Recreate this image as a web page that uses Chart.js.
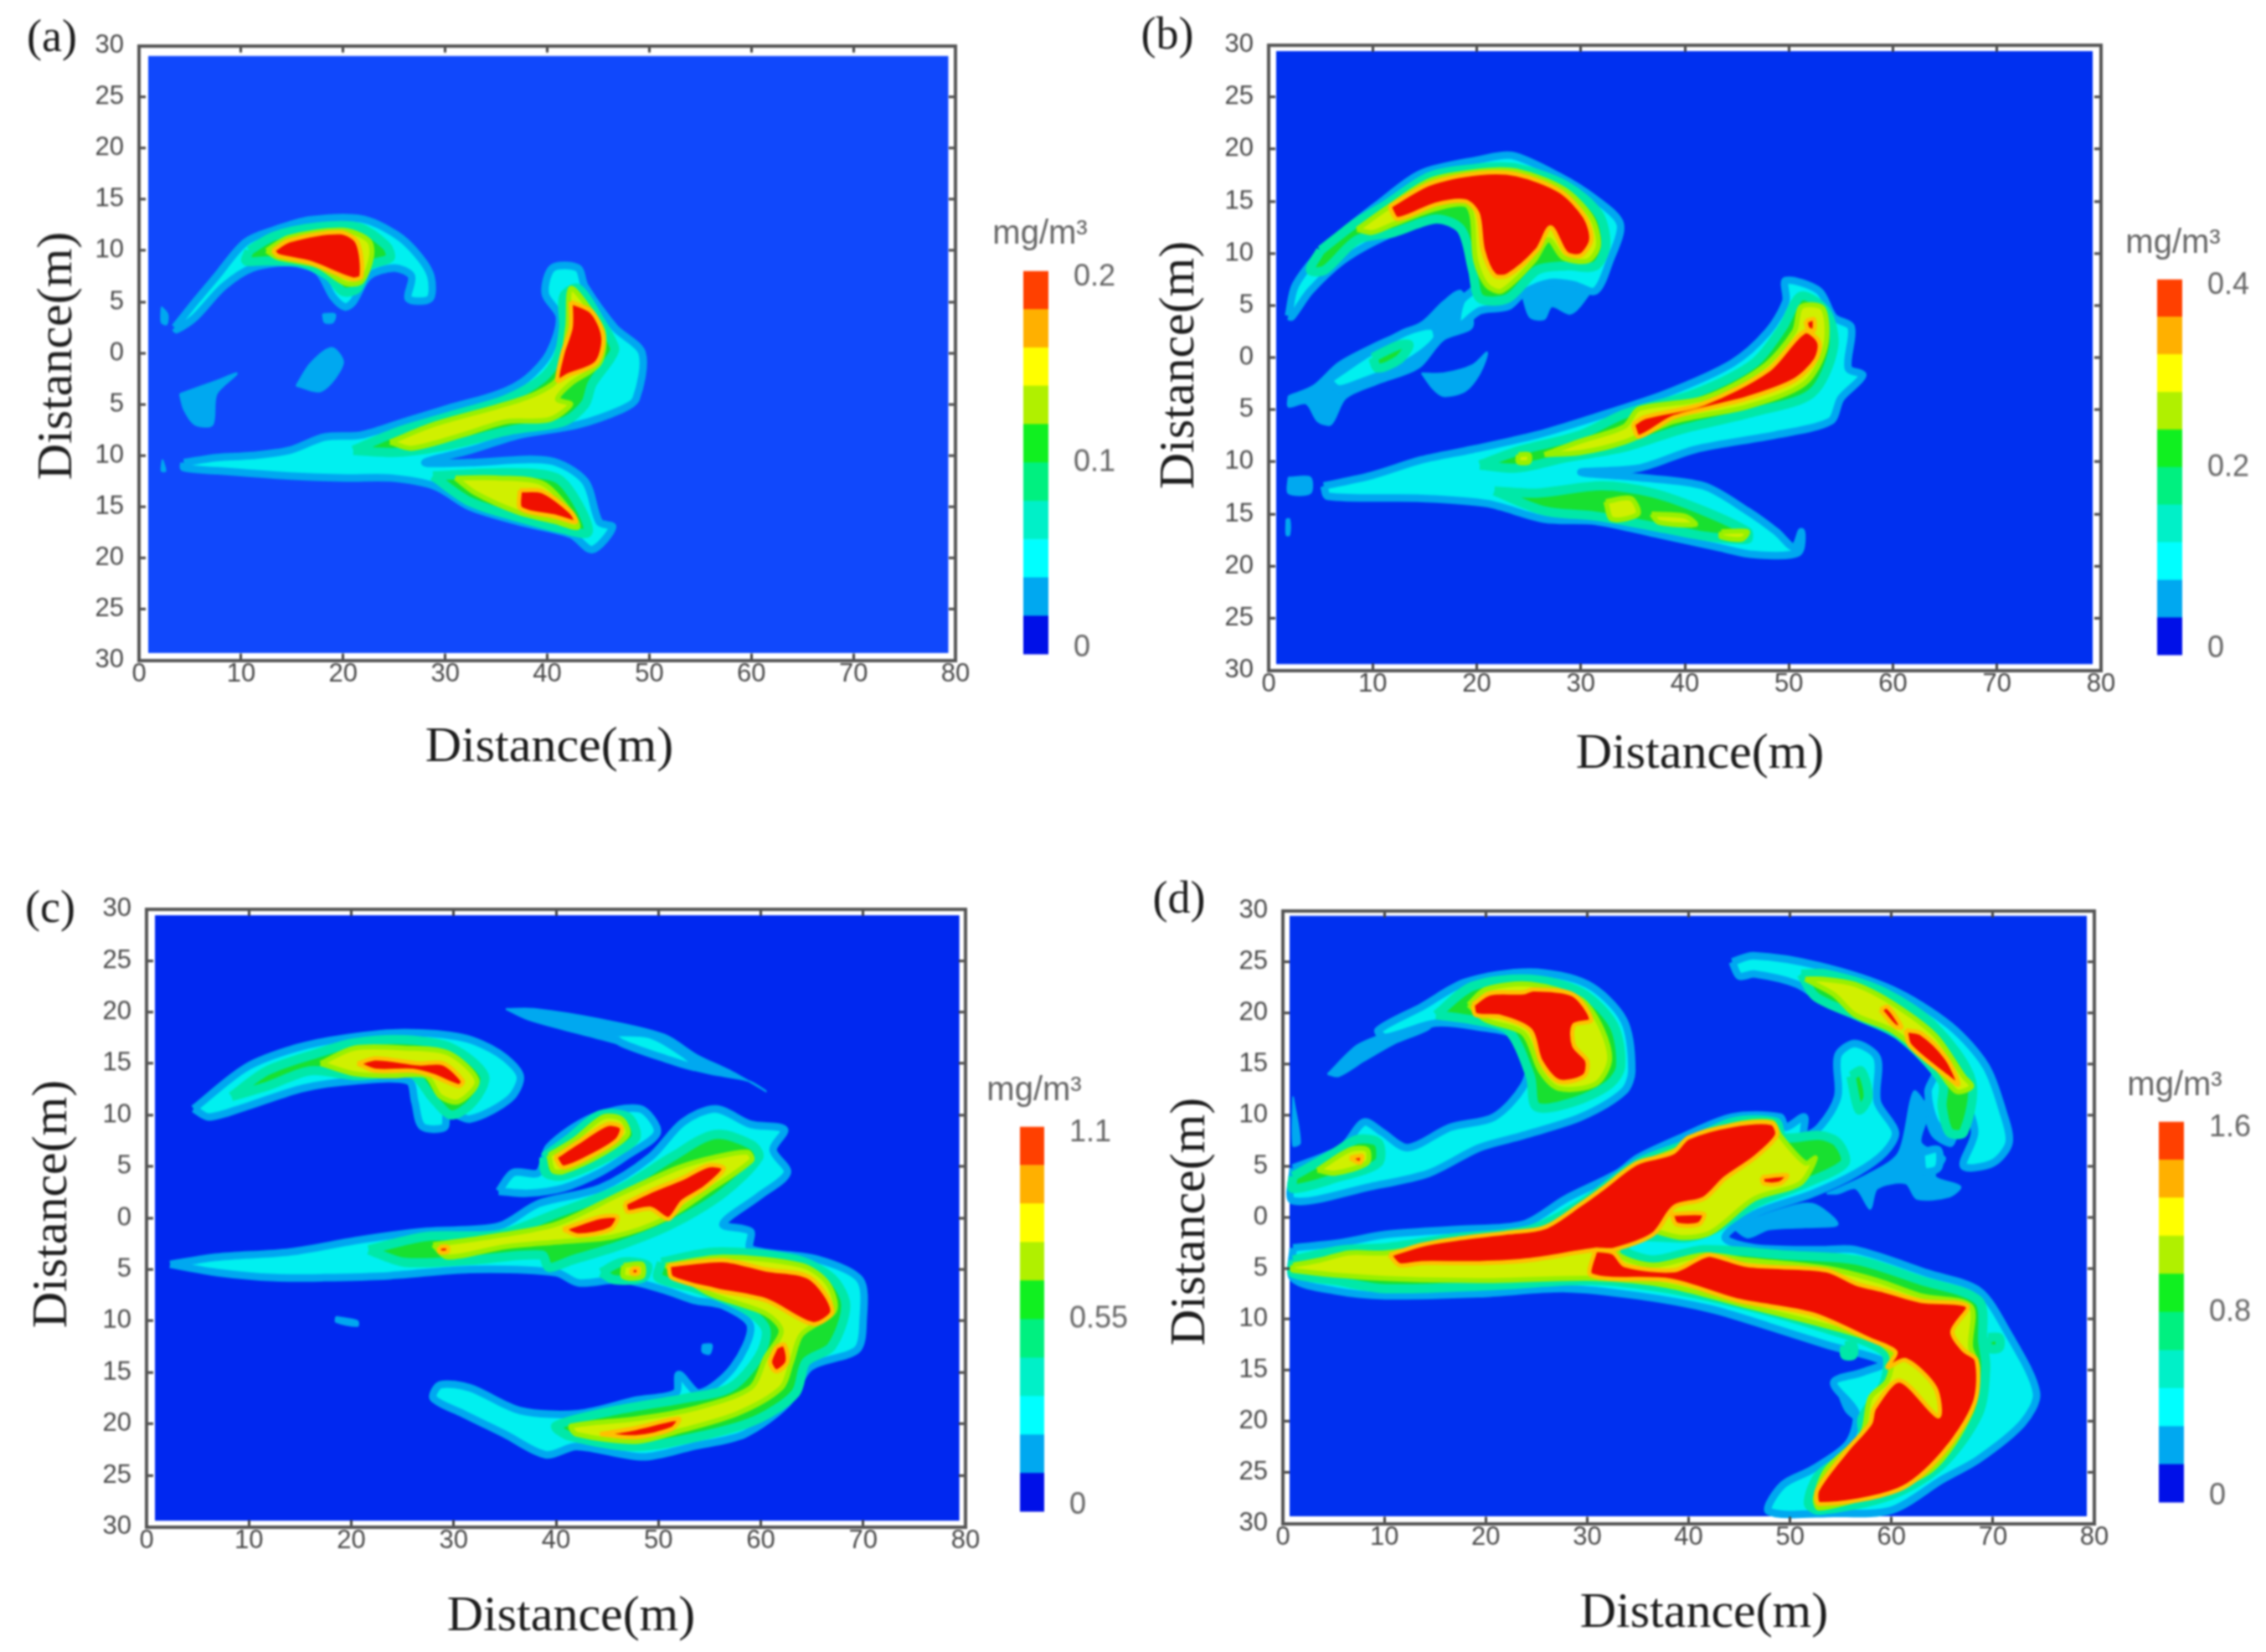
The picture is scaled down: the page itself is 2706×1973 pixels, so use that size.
<!DOCTYPE html>
<html>
<head>
<meta charset="utf-8">
<script src="https://cdn.jsdelivr.net/npm/chart.js@4/dist/chart.umd.min.js"></script>
<style>
  html, body { margin: 0; background: #fff; }
  #page { position: relative; width: 2706px; height: 1973px; overflow: hidden; background: #fff; filter: blur(1px); }
  canvas { position: absolute; }
  .label { position: absolute; white-space: nowrap; transform: translate(-50%, -50%); line-height: 1; }
  .serif { font-family: "Liberation Serif", serif; color: #1c1c1c; }
  .unit { font-family: "Liberation Sans", sans-serif; color: #666; font-size: 40px; }
</style>
</head>
<body>
<div id="page"></div>
<script>
// Axis ticks shared by the four maps. Y runs 30..0..30, stored signed, shown unsigned.
const xTickValues = [0, 10, 20, 30, 40, 50, 60, 70, 80];
const yTickValues = [30, 25, 20, 15, 10, 5, 0, -5, -10, -15, -20, -25, -30];

// Colour bar: band edges as a fraction of the top value, bottom to top
const bandEdges = [0, 0.1, 0.2, 0.3, 0.4, 0.5, 0.6, 0.7, 0.8, 0.9, 1];
const bandColors = ["#0010e8", "#00a8f0", "#00ffff", "#00f0c8", "#00f080", "#10f020", "#b0f000", "#ffff00", "#ffb000", "#ff4000"];

const aBarTicks = [0, 0.1, 0.2];
const bBarTicks = [0, 0.2, 0.4];
const cBarTicks = [0, 0.55, 1.1];
const dBarTicks = [0, 0.8, 1.6];

// ─── Panel (a) contours, [distance x, distance y] ────────────────────────────
const aField = [[[0.9, 29], [79.3, 29], [79.3, -29.3], [0.9, -29.3]]];
const aSky = [
  [[2.2, 4.5], [2.8, 3.8], [2.7, 2.8], [2.2, 3]],
  [[4, -4], [7.6, -2.7], [9.6, -2], [7.6, -4], [7.2, -7], [5.5, -7], [4.4, -5.5]],
  [[15.4, -3.2], [16.8, -1], [18.9, 0.5], [20, -1], [17.9, -3.7]],
  [[18, 3.8], [19.2, 3.8], [19, 3], [18.2, 3]],
  [[2.3, -10.4], [2.6, -11.5], [2.2, -11.5]],
];
const aCyan = [
  [[3.5, 2.5], [5.5, 5], [7.6, 7.5], [10.4, 10.8], [13.2, 12], [16.8, 13], [21.8, 13.1], [25.3, 11.5], [27.4, 9.5], [28.6, 7.5], [28.5, 5.3], [26.4, 5.3], [26.7, 7.5], [25, 8.3], [22.5, 7.5], [21, 5], [20.2, 4.5], [19, 5.5], [17.5, 8], [14.7, 8.8], [11.1, 8.3], [8.3, 6.5], [5.5, 3.5], [3.7, 2.3]],
  [[4.4, -10.7], [7.6, -10.2], [11.1, -10], [14.7, -9.5], [18.2, -8.2], [21.8, -8], [26, -6.7], [30.3, -5.4], [35.2, -4], [38, -2.5], [40.2, 0], [41.2, 3.5], [39.8, 5.8], [40.5, 8.3], [43, 8.3], [43.7, 6.5], [46.6, 2.5], [49.3, 0], [48.7, -4.5], [47.3, -5.5], [43, -7], [37.3, -8], [32.4, -9.5], [28, -10.7], [32.4, -10.7], [40.2, -10.5], [43.7, -12.5], [45.1, -16.5], [46.4, -17], [44.4, -19.2], [42.3, -17.7], [37.3, -16.5], [32.4, -15], [29, -13], [24.6, -12.2], [20.3, -12.2], [14.7, -12], [7.6, -11.5], [4.4, -11.2]],
];
const aGreen = [
  [[10.8, 10], [13.2, 11.4], [17.5, 12.3], [21.4, 12.3], [24.2, 10.5], [24.6, 9.3], [22.5, 8.5], [21.4, 6.3], [20, 6], [18.6, 7.5], [16, 8.8], [12.5, 9], [10.5, 9]],
  [[21, -9.5], [25.3, -7.7], [30.3, -6.2], [36, -4.5], [39.5, -2.5], [41, -0.5], [41.6, 2.5], [41.6, 5.5], [43, 6.3], [45.1, 3.3], [46.6, 0.5], [46.2, -0.5], [44.4, -3], [43.7, -5], [41.6, -6.7], [36.6, -7.5], [30.3, -9], [25.3, -9.7]],
  [[28.8, -12], [36, -11.7], [40.9, -12.2], [43, -14.7], [44, -17.5], [41.6, -17.2], [37, -16], [32.4, -14.5]],
];
const aYellow = [
  [[12.5, 10], [14.7, 11.3], [20, 12], [22.5, 11], [22.8, 9.5], [21.8, 7], [20.2, 6.8], [17.5, 8.5], [13.6, 9.3]],
  [[24.6, -8.7], [28.8, -7], [35.2, -5.2], [38.8, -4], [41, -2.5], [42, 2.5], [42.3, 6.3], [44, 4.5], [45.5, 2], [45.1, -1], [42.3, -3], [41, -4.5], [42.3, -5], [40.2, -6.5], [36, -6.7], [31.7, -8], [26.7, -9.3]],
  [[31, -12.2], [35.2, -12.2], [39.5, -12.7], [42.3, -15.5], [43, -17], [40.9, -16.5], [37, -15.5], [33, -13.7]],
];
const aRed = [
  [[13.1, 10], [14.7, 11], [19.7, 11.8], [21.4, 10.8], [21.8, 7.5], [20.9, 7.2], [16.8, 8.8], [13.6, 9.5]],
  [[42.3, 5], [44.4, 4], [45.5, 1.5], [44.8, -1], [42, -2.2], [41, -2.7], [41.5, 0], [42.3, 2.5]],
  [[37.3, -13.4], [39.5, -13.5], [42.3, -15.5], [42.8, -16.5], [40.9, -16], [37.4, -15.2]],
];

// ─── Panel (b) ───────────────────────────────────────────────────────────────
const bField = [[[0.72, 29.4], [79.2, 29.4], [79.2, -29.4], [0.72, -29.4]]];
const bSky = [
  [[1.9, -3.7], [4.3, -2.7], [6.7, -0.5], [10.5, 1.5], [14.7, 3.4], [16.8, 5.4], [18.5, 6.4], [19.6, 3], [16.8, 1.7], [14.4, -1], [10.5, -2.5], [7.4, -3.9], [6, -6.4], [4.7, -6.1], [3.6, -4.4], [1.9, -4.7]],
  [[14.7, -1.5], [16.8, -1.5], [19.6, -0.7], [21, 0.5], [20.3, -1.5], [18.9, -3.2], [16.8, -3.7], [15.8, -3]],
  [[24.4, 5.9], [28.6, 8.4], [32, 8.4], [30.3, 5.4], [29, 4.2], [27.2, 4.9], [26.5, 3.7], [25.1, 3.9]],
  [[1.9, -11.5], [4, -11.5], [4, -13], [1.9, -13]],
  [[1.7, -15.5], [2, -15.5], [2, -17], [1.7, -17]],
];
const bCyan = [
  [[1.9, 4], [2.6, 7], [5.7, 10.8], [10.5, 14.7], [14.7, 17.7], [20.3, 19], [23.4, 19.4], [27.9, 17.4], [31.4, 15.2], [33.8, 12.8], [32.8, 9.3], [31.4, 6.4], [29.3, 7], [27, 7.2], [24.5, 6.2], [23, 4.9], [20.3, 4.5], [18.2, 3], [18.5, 5.4], [19.9, 6.9], [19.2, 10.3], [18.2, 13.8], [14.7, 13], [10.5, 11.3], [7.1, 9.3], [4, 6.4], [2.2, 3.9]],
  [[5.7, -2.2], [9.2, 0.2], [13.3, 2.5], [15.8, 3], [16.1, 1.7], [13.3, -0.5], [8.5, -2.5], [6.7, -3]],
  [[5.3, -12.3], [9.9, -11.3], [14.7, -9.8], [19.6, -8.8], [25.8, -7.4], [31.4, -5.7], [38.3, -3.4], [44.6, -0.5], [48, 2.5], [49.7, 5.4], [49.7, 7.4], [52.9, 6.4], [54.3, 3.9], [56, 2.9], [55.7, -1], [57.1, -1.7], [55, -3.9], [54, -6.1], [48.8, -7.4], [41, -8.8], [35.6, -10.6], [30, -11], [35.6, -11.5], [41.8, -12.3], [46, -14.7], [48.8, -16.7], [50.5, -18.2], [51.2, -16.7], [50.9, -18.7], [46.7, -18.9], [43.2, -18.2], [37.6, -17], [31.4, -15.7], [26.5, -15.5], [21, -14], [14.7, -13.5], [5.7, -13.3]],
];
const bGreen = [
  [[5, 10.3], [8.5, 13], [11.3, 14.7], [15.5, 17.4], [20.3, 18.2], [23.8, 18.2], [28.6, 16.5], [31.7, 13.8], [32.4, 10.8], [31.4, 8.8], [28.6, 8.8], [25.8, 8.4], [23, 5.7], [20.3, 5.7], [19.6, 8.4], [18.5, 12.3], [16.1, 13.3], [12, 12], [8.5, 11.3], [5.4, 8.4], [4, 8.4]],
  [[10, 0], [12.5, 1.2], [13.5, 1.2], [12.5, -0.2], [10.5, -1]],
  [[20.3, -10.3], [23.8, -9], [30, -7.4], [34.2, -5.4], [41.1, -3.4], [46.7, -0.5], [49.4, 2.9], [51.2, 5.9], [53.6, 4.4], [54.3, 1], [52.2, -3.4], [46.7, -5.2], [39.6, -6.9], [34.2, -8.6], [28.6, -9.6], [23.8, -10.6]],
  [[21.7, -12.8], [25.8, -13], [32, -12.3], [37, -13], [41.8, -14.7], [46, -16.7], [46, -17.4], [42.5, -17.2], [37, -16.2], [31.4, -15.2], [26.5, -14.7]],
];
const bYellow = [
  [[8.5, 12.3], [11.3, 14.3], [15.5, 17], [20.3, 17.9], [23.8, 17.9], [28.3, 16.2], [31, 13.5], [31.7, 10.8], [30.7, 9.3], [28.3, 9.6], [26.9, 11.3], [25.5, 9.3], [22.4, 6.4], [21, 6.9], [19.9, 9.3], [19.2, 14.5], [16.1, 14.3], [12, 12.8], [9.9, 12]],
  [[26.5, -9.3], [30, -8], [34.2, -6.6], [35.6, -4.9], [41.8, -3.9], [47.4, -1], [50.5, 2.5], [51.2, 4.9], [53.3, 4.7], [53.5, 1], [51.5, -2.5], [46, -4.7], [39, -6.1], [34.2, -8.1], [30, -9.1]],
  [[24, -9.3], [25, -9.3], [25, -10], [24, -10]],
  [[32.4, -13.8], [34.8, -13.5], [35.5, -15], [33, -15.5]],
  [[36.8, -15], [40, -15.2], [41, -16], [37.5, -15.8]],
  [[43.5, -16.7], [46, -16.7], [45.5, -17.4], [43.5, -17.2]],
];
const bRed = [
  [[11.6, 14.5], [15.5, 16.7], [20.3, 17.7], [23.8, 17.6], [28, 16], [30.4, 13.5], [31, 11.3], [30, 9.8], [28.6, 10], [27.1, 12.5], [25.8, 10.3], [23, 7.9], [21.7, 7.9], [20.6, 10.3], [20.1, 13.8], [18.9, 15], [16.1, 14.7], [12.4, 13.3]],
  [[35, -6.4], [36.2, -5.7], [41.8, -4.4], [48, -1.2], [51.5, 2.5], [52.9, 1.5], [52.6, -0.2], [50.5, -2.2], [46, -3.9], [39, -5.7], [35.6, -7.6]],
  [[51.6, 3.5], [52.4, 3.7], [52.4, 2.6], [51.8, 2.8]],
];

// ─── Panel (c) ───────────────────────────────────────────────────────────────
const cField = [[[0.82, 29.4], [79.4, 29.4], [79.4, -29.4], [0.82, -29.4]]];
const cSky = [
  [[35.1, 20.3], [37.9, 20.3], [44.3, 19.3], [50.6, 17.8], [53.8, 15.8], [57, 14.3], [60.5, 12.3], [58.8, 13.3], [55, 14], [51.3, 15], [46.4, 16.8], [40.7, 18.3], [37.2, 19.3]],
  [[18.5, -9.6], [20.6, -10], [20.6, -10.5], [18.5, -10.1]],
  [[54.3, -12.3], [55.2, -12.3], [55, -13.2], [54.3, -13]],
];
const cCyan = [
  [[4.6, 10.6], [9.7, 14.6], [14.6, 16.5], [19.6, 17.5], [25.2, 18], [30.9, 17.5], [34.4, 16], [36.5, 13.8], [35.5, 11.6], [31.6, 9.6], [29.4, 10.3], [29.1, 8.8], [26.9, 8.9], [26.2, 11.3], [25.6, 13.3], [20.3, 13.3], [15.3, 12.6], [9.7, 10.8], [6.1, 9.8]],
  [[45, 18], [49.2, 17.8], [52.7, 15.8], [53.8, 14.6], [50.6, 15.5], [46.4, 17]],
  [[34.4, 2.6], [35.8, 4.4], [38.3, 4.4], [39.3, 6.9], [43.6, 9.8], [48.2, 10.6], [49.9, 8.3], [47, 6.1], [44.3, 4.4], [40.7, 2.9], [37.2, 2.4]],
  [[2.3, -4.5], [6.9, -3.8], [14, -3.3], [21, -2.1], [27.3, -1.3], [34.4, -0.8], [38.3, 1.4], [44.3, 2.9], [49.2, 5.9], [52.4, 9.3], [55.6, 10.6], [59, 9.1], [62.3, 8.6], [61.2, 6.6], [62.6, 4.4], [59.8, 2.1], [56.3, -0.6], [59, -1.3], [59, -3], [65.5, -4], [69.7, -6], [70, -10], [69.4, -12.8], [64.8, -14.5], [62.6, -18], [58.4, -21], [53.3, -22.2], [48.5, -23.2], [42, -22.2], [39, -23], [35, -21], [30.9, -19], [28, -17.5], [28.7, -16.2], [31.6, -16.5], [36.5, -18.7], [42.2, -19], [47.8, -17.7], [51.7, -17], [52, -15.2], [54, -17], [57.3, -14.5], [59, -10.5], [56.3, -8.5], [53.5, -8], [50.6, -7], [46.4, -6], [42.2, -6.3], [40, -5.3], [31.6, -5], [23.8, -5.6], [17.4, -5.8], [12.5, -5.8], [6.9, -5.3]],
];
const cGreen = [
  [[8.3, 11.8], [11.8, 14.3], [16.7, 16], [20.3, 17], [25.2, 17.3], [29.8, 16.5], [33, 13.8], [31.9, 11.3], [29.8, 10], [28, 11.6], [25.9, 14], [20.6, 13.8], [16, 14.3], [11.8, 12.8]],
  [[38.8, 5.9], [41.4, 7.8], [44.3, 10], [47, 9.8], [47.8, 7.8], [45, 5.9], [40.7, 4.1], [39, 4.4]],
  [[21.7, -3.1], [27.3, -1.8], [34.4, -1.6], [40, 0.4], [46.4, 2.9], [51.3, 5.9], [55.5, 8.1], [59.1, 7.1], [59.8, 5.9], [56.3, 2.4], [51.3, -0.6], [46.4, -2.6], [41.5, -4.1], [39.3, -4.8], [38.6, -3.6], [31.6, -4.1], [25.2, -4.3]],
  [[44.4, -5.3], [46.4, -4.3], [48.9, -4.6], [48.5, -5.8], [45.7, -6]],
  [[50.3, -4.3], [55.6, -3.3], [63.3, -4], [66.9, -5.8], [68.3, -8.5], [66.9, -12.5], [64.4, -14], [63.4, -17], [59.8, -19.5], [54.9, -21], [47.8, -22.2], [41.4, -21.2], [40, -20.2], [45.7, -18.7], [52.7, -17.5], [57, -16.5], [59.8, -13.5], [60.5, -10.8], [58.4, -8.8], [53.5, -6.8], [50, -5.8]],
];
const cYellow = [
  [[17, 15], [20.3, 16.5], [25.2, 16.5], [29.5, 16], [32.3, 13.3], [30.5, 11.3], [28.7, 11.8], [27.3, 13.8], [23.8, 13.8], [20.3, 14]],
  [[39.3, 6.1], [41.8, 7.6], [44.6, 9.8], [46.4, 9.6], [47, 8.1], [44.3, 6.1], [40.7, 4.5], [39.7, 4.6]],
  [[28, -2.6], [33.7, -1.8], [40, -0.6], [46.4, 2.4], [52, 4.9], [55.5, 5.9], [58.7, 6.4], [59.1, 5.6], [54.8, 2.6], [50.6, -0.1], [45.7, -1.8], [40.7, -2.3], [35, -2.8], [29.4, -3.8]],
  [[46.6, -4.6], [48.4, -4.5], [48.4, -5.7], [46.6, -5.7]],
  [[50.7, -4.6], [56.3, -3.8], [64, -4.6], [66.5, -6.3], [67.2, -9], [64, -11.3], [63, -14], [62, -16.5], [57.7, -19], [52, -20.7], [47.8, -21.7], [42, -21], [41.5, -20.2], [47.8, -19.5], [53.5, -18.5], [59, -16.5], [60.5, -13.5], [62, -11], [60.5, -9.3], [54.9, -7.3]],
];
const cRed = [
  [[20.6, 15], [22.4, 15.5], [26.6, 15], [29, 15], [30.9, 13.3], [30.5, 12.8], [28, 13.8], [26, 14.3], [22.4, 14.3]],
  [[39.9, 5.9], [42.2, 7.4], [45, 9.1], [46.4, 8.8], [46, 7.6], [43.6, 6.1], [40.7, 4.9]],
  [[40.7, -1.1], [44.3, 0.1], [46, 0.1], [45.3, -1.1], [42.2, -1.7]],
  [[46.7, 1.4], [49.2, 2.6], [52.4, 3.9], [54.9, 5.1], [56.4, 4.8], [54.5, 2.9], [52.4, 1.6], [51, -0.1], [49.2, 0.9], [47, 0.6]],
  [[51, -4.6], [56.3, -4.1], [60.5, -5], [64.8, -5.8], [67, -9], [65.1, -10.3], [60.5, -8], [55.6, -7], [51.3, -5.8]],
  [[61.5, -12.5], [62.3, -12.3], [62.6, -14], [61.5, -14.9], [60.9, -14]],
  [[44.3, -21], [47.8, -20.4], [52, -19.5], [51.3, -20.5], [47.8, -21.3]],
  [[47.4, -4.9], [48, -4.9], [48, -5.4], [47.4, -5.4]],
  [[28.6, -2.8], [29.4, -2.8], [29.4, -3.3], [28.6, -3.3]],
];

// ─── Panel (d) ───────────────────────────────────────────────────────────────
const dField = [[[0.66, 29.5], [79.26, 29.5], [79.26, -29.3], [0.66, -29.3]]];
const dSky = [
  [[1, 11.8], [1.7, 7.3], [1, 7]],
  [[4.4, 14], [7.3, 16.8], [10.1, 18], [13.7, 19.3], [14.5, 18.5], [11, 17], [8, 15.3], [5.5, 13.8]],
  [[53.6, 2.3], [57.9, 4.3], [60.7, 6.3], [62.2, 12.3], [63.6, 10.3], [62.9, 7.3], [65.3, 5.8], [64.3, 4], [66.8, 3], [65.7, 2], [62.5, 1.8], [61.4, 3.3], [58.6, 2.8], [57.9, 0.8], [56.5, 2.8], [54.7, 2.3]],
  [[44.3, -1], [48.6, 0.6], [52.2, 1.3], [54.7, -0.7], [51.5, -1], [47.9, -1.2], [45.8, -2]],
  [[63, 11], [65, 13], [66.5, 10], [66, 7], [64, 8]],
  [[54.5, -16.5], [56.5, -18], [57, -20], [55.5, -19]],
];
const dCyan = [
  [[1, 4.8], [5.8, 6.8], [8, 9.3], [9.8, 8.3], [12.3, 6.8], [16.5, 8.8], [20.8, 9.8], [23.7, 12.8], [24.4, 15.8], [23, 17.8], [19.4, 18.6], [15.1, 19], [10.1, 17.6], [9.4, 18.3], [13.7, 20.6], [18, 23], [24.4, 24], [30, 22.8], [33.6, 19.3], [34.4, 14.3], [33.6, 12.3], [29.4, 9.8], [23.7, 8], [19.4, 6.8], [14.4, 4.3], [8.7, 3], [1, 1.6]],
  [[44.3, 25], [46.4, 25.6], [52.9, 24.6], [60, 22.3], [65.7, 18.8], [69.3, 14.8], [71, 10.3], [71.6, 7.3], [70, 5.3], [67.1, 5], [68.2, 8.3], [67.1, 11.3], [65.7, 8.3], [64.3, 9.3], [63.6, 12.3], [64.3, 14.3], [62.2, 16.8], [58.6, 19.3], [53.6, 21], [50.7, 22.8], [46.5, 23.8], [45, 23.6]],
  [[1, -3], [5.8, -2.5], [10.1, -1.7], [17.2, -1.2], [23.7, -0.7], [27.9, 1.8], [33, 4.3], [35, 5.8], [39.3, 7.8], [44.3, 9.8], [49, 9.8], [49.6, 8.8], [51.4, 9.8], [51.4, 8], [52.9, 8.8], [54.7, 11.8], [54.7, 15.8], [56.4, 17], [58.6, 15.6], [58.6, 11.3], [60.4, 8.3], [59.3, 6.3], [56.5, 4.3], [52.2, 2.3], [46.5, 0.3], [43.6, -2], [46.5, -3], [52.9, -3.2], [56.5, -3.2], [63.6, -5.5], [68.6, -7.2], [71.4, -11.2], [74.3, -17.2], [72.9, -20.2], [68.6, -23.7], [65, -25.7], [60, -28.7], [54.3, -29], [47.9, -28.8], [49.3, -26.2], [52.2, -24.7], [55.7, -22.2], [56.5, -19.2], [54.3, -16.2], [57.1, -15.2], [59.3, -14.2], [53.6, -12.5], [47.9, -10.7], [42.2, -9], [35, -7.7], [27.9, -7], [19.4, -7.5], [10.1, -7.7], [5.1, -7.2], [1, -6]],
  [[62.9, 6.3], [64.6, 6.6], [64.6, 4.8], [63.2, 4.5]],
];
const dGreen = [
  [[1, 4], [5.1, 6.3], [7.3, 7.6], [9.4, 7.3], [9.4, 5.3], [5.1, 3.8], [1, 2.8]],
  [[15.1, 19.8], [18.7, 22.6], [24.4, 23.3], [29.4, 22], [32.6, 18.8], [33.3, 14.8], [32.2, 13], [28.7, 11.3], [25, 10.8], [24.4, 13.8], [22.2, 18.3], [18.7, 19.3]],
  [[51.1, 23.8], [53.6, 23.8], [59.3, 22], [64.3, 18.6], [67.9, 13.3], [67.1, 8.3], [65.7, 8.3], [65, 10.8], [65, 13.3], [60.7, 17.8], [56.4, 19.8], [52.5, 21.6]],
  [[56, 13.8], [57, 14.3], [57.7, 11.8], [56.8, 10.5]],
  [[1, -4.2], [5.8, -3.2], [10.1, -3], [17.2, -2], [24.4, -1.2], [29.4, 1.3], [35, 5.3], [39.3, 7], [44.3, 9.3], [48.6, 9.3], [49.3, 7.8], [52.9, 8], [54.7, 7.3], [55.4, 5.3], [51.5, 3.3], [46.5, 1.3], [42.9, -1], [40, -2], [35, -2], [33.6, -3.2], [36.5, -4.2], [41.5, -3.2], [49.3, -3.7], [56.5, -4.2], [62.9, -6.2], [68.6, -8.2], [69, -12.2], [69.3, -14.7], [68.6, -19.2], [65, -24.2], [60, -27.2], [52.9, -28.7], [51.8, -28], [52.9, -25.2], [57.1, -22.2], [57.1, -19.7], [59.3, -16.2], [59.3, -13.2], [52.9, -10.7], [45.8, -8.7], [37.9, -7], [30.8, -6.2], [20.8, -6.7], [10.1, -7], [5.1, -6.2], [1, -5.5]],
  [[55.4, -12.6], [56.2, -12.6], [56.2, -13.5], [55.4, -13.5]],
  [[69.5, -11.8], [70.6, -11.8], [70.6, -12.8], [69.5, -12.8]],
];
const dYellow = [
  [[3.4, 4.6], [6.6, 6.6], [8.3, 6.6], [8.3, 5.3], [5.1, 4.3]],
  [[18.3, 20.8], [20, 22.3], [24.4, 22.8], [29.4, 21.3], [31.5, 18.3], [32.2, 15.3], [30.8, 13], [27.2, 12.6], [25.4, 14.3], [23.7, 18], [20, 19.3]],
  [[51.5, 23.3], [53.2, 23.3], [56.4, 22.8], [60, 21], [64.3, 17.8], [67.1, 13.8], [67.9, 12.8], [66.4, 12.3], [64.3, 14.8], [60, 18.3], [56.4, 19.8], [54.3, 21.8]],
  [[1, -4.7], [3.7, -4.2], [6.5, -3.5], [10.1, -3.5], [17.2, -2.5], [24.4, -1.5], [29.4, 0.8], [35, 5], [39.3, 6.8], [44.3, 9], [48.2, 9.3], [49, 8], [51.5, 5.3], [52.5, 5.8], [51, 3.3], [46.5, 1.8], [42.2, -1.5], [39.3, -2], [35, -1.2], [33, -3.5], [36.5, -4.7], [41.5, -3.7], [45.8, -4.2], [53.6, -5], [58.6, -6.2], [62.9, -7.7], [67.8, -8.7], [67.8, -12.7], [68.5, -14.7], [67.8, -19.2], [64, -24.7], [58.6, -27], [52.9, -28.5], [52.5, -27.5], [53.6, -24.7], [57.1, -21.2], [57.9, -17.7], [59.6, -16], [60, -13.5], [58.6, -12.2], [53, -10.5], [45, -8.5], [37.9, -6.7], [30.8, -6], [20.8, -6.2], [10.1, -6], [1, -5.2]],
];
const dRed = [
  [[6.6, 5.8], [7.8, 6], [7.6, 5.3]],
  [[18.7, 20.8], [20.4, 21.9], [23.7, 22], [24.7, 22.3], [28.6, 21.8], [30.4, 19.3], [28.7, 18.8], [28.7, 16.8], [30, 15.3], [29.7, 13.8], [27.2, 13.3], [25.4, 15.3], [24.4, 18.3], [21.5, 19.6], [19, 19.8]],
  [[58.9, 20.3], [59.6, 20.6], [61, 18.6], [60.3, 18.7]],
  [[61.4, 18.3], [62.9, 18], [65.4, 15.6], [66.6, 13], [65.4, 13.8], [61.8, 16.8]],
  [[10.5, -3.7], [13.7, -2.7], [16.5, -2.2], [22.2, -1.5], [25.8, -1], [29.4, 1.3], [31.5, 2.8], [34.9, 5.3], [38.4, 6.3], [40, 7.8], [44.3, 9], [48.2, 9.2], [48.7, 8], [46.5, 5.8], [43.6, 3.8], [41.5, 1.8], [38.6, 1], [36.5, -1.7], [32.6, -3.2], [30.8, -3.2], [24.4, -4.2], [19.4, -4.5], [13.7, -4.5], [11.5, -4.7]],
  [[30.8, -3.2], [32.6, -3.5], [33.7, -4.7], [38.6, -5.2], [41.1, -4], [42.2, -3.7], [45.8, -4.7], [53.6, -5.2], [56.5, -6.5], [59.3, -7.2], [62.9, -8.2], [67.5, -8.7], [66, -11.2], [67.1, -13], [68.4, -14], [68.2, -18.2], [65, -23.2], [60.7, -26.7], [52.9, -28.1], [52.7, -26.7], [55.7, -22.7], [57.9, -20.2], [58.3, -18.7], [60.8, -16], [64.6, -19.5], [64.3, -16.7], [61.4, -14], [59.6, -14.7], [60.4, -13.2], [57.9, -12], [52.2, -9.5], [45, -8.2], [38.2, -6.2], [30.4, -5.7]],
  [[47.2, 3.9], [49.7, 4.1], [49, 3.3], [47.4, 3.3]],
  [[38.3, 0.3], [41.5, 0.3], [41, -0.7], [38.8, -0.7]],
];

// ─── Layout and colours ──────────────────────────────────────────────────────
// Contour levels bottom to top, each stroked so the next band shows around it
const LEVELS = [
  { fill: "#00a8f0", edge: "#00a8f0", width: 2 },
  { fill: "#00f0f0", edge: "#00a8f0", width: 9 },
  { fill: "#18e030", edge: "#00e8a8", width: 11 },
  { fill: "#d0f000", edge: "#98f000", width: 6 },
  { fill: "#f01000", edge: "#ffc000", width: 5 },
];

const PANELS = [
  { letter: "(a)", letterAt: [62, 43], levels: [aSky, aCyan, aGreen, aYellow, aRed], field: aField, blue: "#1048fc",
    frame: [166, 55, 1141, 788], xTitle: [656, 889], yTitle: [65, 425],
    bar: [1222, 324, 1252, 781], barMax: 0.2, barTicks: aBarTicks, unit: [1242, 277] },
  { letter: "(b)", letterAt: [1394, 40], levels: [bSky, bCyan, bGreen, bYellow, bRed], field: bField, blue: "#0030f0",
    frame: [1515, 54, 2509, 800], xTitle: [2030, 897], yTitle: [1405, 436],
    bar: [2576, 334, 2606, 782], barMax: 0.4, barTicks: bBarTicks, unit: [2595, 288] },
  { letter: "(c)", letterAt: [60, 1083], levels: [cSky, cCyan, cGreen, cYellow, cRed], field: cField, blue: "#0028f0",
    frame: [175, 1086, 1153, 1823], xTitle: [682, 1927], yTitle: [59, 1438],
    bar: [1218, 1346, 1247, 1805], barMax: 1.1, barTicks: cBarTicks, unit: [1235, 1300] },
  { letter: "(d)", letterAt: [1408, 1072], levels: [dSky, dCyan, dGreen, dYellow, dRed], field: dField, blue: "#0030f0",
    frame: [1532, 1088, 2501, 1819], xTitle: [2035, 1923], yTitle: [1418, 1459],
    bar: [2578, 1340, 2608, 1794], barMax: 1.6, barTicks: dBarTicks, unit: [2597, 1294] },
];

const FRAME_COLOR = "#555555";
const TICK_FONT = { family: "'Liberation Sans', sans-serif", size: 31 };
const MARGIN = { left: 70, top: 30, right: 30, bottom: 50 };

const page = document.getElementById("page");

function addLabel(text, [x, y], cls, size, rotate) {
  const el = document.createElement("div");
  el.className = "label " + cls;
  el.textContent = text;
  el.style.left = x + "px";
  el.style.top = y + "px";
  if (size) el.style.fontSize = size + "px";
  if (rotate) el.style.transform = "translate(-50%, -50%) rotate(-90deg)";
  page.appendChild(el);
}

function addCanvas(w, h) {
  const canvas = document.createElement("canvas");
  canvas.width = w;
  canvas.height = h;
  page.appendChild(canvas);
  return canvas;
}

// The layout pass leaves its own margins, so measure the plot area once and
// resize/move the canvas until that area sits exactly on the wanted rectangle.
function placePlotArea(chart, [l, t, r, b]) {
  const area = chart.chartArea;
  const w = chart.width + (r - l) - (area.right - area.left);
  const h = chart.height + (b - t) - (area.bottom - area.top);
  chart.resize(w, h);
  chart.canvas.style.position = "absolute";
  chart.canvas.style.left = l - chart.chartArea.left + "px";
  chart.canvas.style.top = t - chart.chartArea.top + "px";
}

function polygonDataset(polygon, fill, edge, width, tension) {
  return {
    data: [...polygon, polygon[0]].map(([x, y]) => ({ x, y })),
    showLine: true,
    fill: "shape",
    backgroundColor: fill,
    borderColor: edge,
    borderWidth: width,
    borderJoinStyle: "round",
    tension,
    pointRadius: 0,
    pointHoverRadius: 0,
  };
}

// Frame with inward ticks. Labels only on the left and bottom axes.
function frameAxis(position, size, min, max, values, labelled, padding) {
  return {
    type: "linear",
    position,
    min,
    max,
    afterBuildTicks: (scale) => { scale.ticks = values.map((value) => ({ value })); },
    afterFit: (scale) => {
      if (scale.isHorizontal()) scale.height = size;
      else scale.width = size;
    },
    // border has to paint after the grid layer: it reads a value the grid draw sets
    border: { display: true, color: FRAME_COLOR, width: 4, z: 2 },
    grid: { drawOnChartArea: false, tickLength: -8, tickColor: "#444", tickWidth: 3, z: 1 },
    ticks: {
      display: labelled,
      autoSkip: false,
      maxRotation: 0,
      padding,
      color: "#484848",
      font: TICK_FONT,
      callback: (v) => Math.abs(v),
    },
  };
}

function drawMap(panel) {
  const [l, t, r, b] = panel.frame;
  const canvas = addCanvas(r - l + MARGIN.left + MARGIN.right, b - t + MARGIN.top + MARGIN.bottom);

  const datasets = panel.field.map((p) => polygonDataset(p, panel.blue, panel.blue, 0, 0));
  panel.levels.forEach((polygons, i) => {
    const style = LEVELS[i];
    polygons.forEach((p) => datasets.push(polygonDataset(p, style.fill, style.edge, style.width, 0.3)));
  });
  // first dataset is painted last by default, so number them upwards
  datasets.forEach((d, i) => { d.order = -i; });

  const chart = new Chart(canvas, {
    type: "scatter",
    data: { datasets },
    options: {
      responsive: false,
      maintainAspectRatio: false,
      animation: false,
      events: [],
      plugins: { legend: { display: false }, tooltip: { enabled: false } },
      scales: {
        x: frameAxis("bottom", MARGIN.bottom, 0, 80, xTickValues, true, 6),
        y: frameAxis("left", MARGIN.left, -30, 30, yTickValues, true, 26),
        x2: frameAxis("top", MARGIN.top, 0, 80, xTickValues, false, 0),
        y2: frameAxis("right", MARGIN.right, -30, 30, yTickValues, false, 0),
      },
    },
  });
  placePlotArea(chart, panel.frame);
}

function drawColorBar(panel) {
  const [l, t, r, b] = panel.bar;
  const pad = 20;
  const labelWidth = 100;
  const canvas = addCanvas(r - l + labelWidth, b - t + pad * 2);
  const top = panel.barMax;
  // Labels sit a little inside the ends of the bar in the source figure
  const inset = top * 0.018;

  const chart = new Chart(canvas, {
    type: "bar",
    data: {
      labels: [""],
      datasets: bandColors.map((color, i) => ({
        data: [[bandEdges[i] * top, bandEdges[i + 1] * top]],
        backgroundColor: color,
        borderWidth: 0,
        barPercentage: 1,
        categoryPercentage: 1,
        grouped: false,
      })),
    },
    options: {
      responsive: false,
      maintainAspectRatio: false,
      animation: false,
      events: [],
      layout: { padding: { top: pad, bottom: pad } },
      plugins: { legend: { display: false }, tooltip: { enabled: false } },
      scales: {
        x: { display: false },
        y: { display: false, min: 0, max: top },
        y2: {
          type: "linear",
          position: "right",
          min: -inset,
          max: top + inset,
          afterBuildTicks: (scale) => { scale.ticks = panel.barTicks.map((value) => ({ value })); },
          afterFit: (scale) => { scale.width = labelWidth; },
          border: { display: false },
          grid: { display: false },
          ticks: { padding: 22, color: "#666", font: { family: TICK_FONT.family, size: 36 }, callback: (v) => String(v) },
        },
      },
    },
  });
  placePlotArea(chart, panel.bar);
}

PANELS.forEach((panel) => {
  drawMap(panel);
  drawColorBar(panel);
  addLabel(panel.letter, panel.letterAt, "serif", 54);
  addLabel("Distance(m)", panel.xTitle, "serif", 60);
  addLabel("Distance(m)", panel.yTitle, "serif", 60, true);
  addLabel("mg/m³", panel.unit, "unit");
});
</script>
</body>
</html>
